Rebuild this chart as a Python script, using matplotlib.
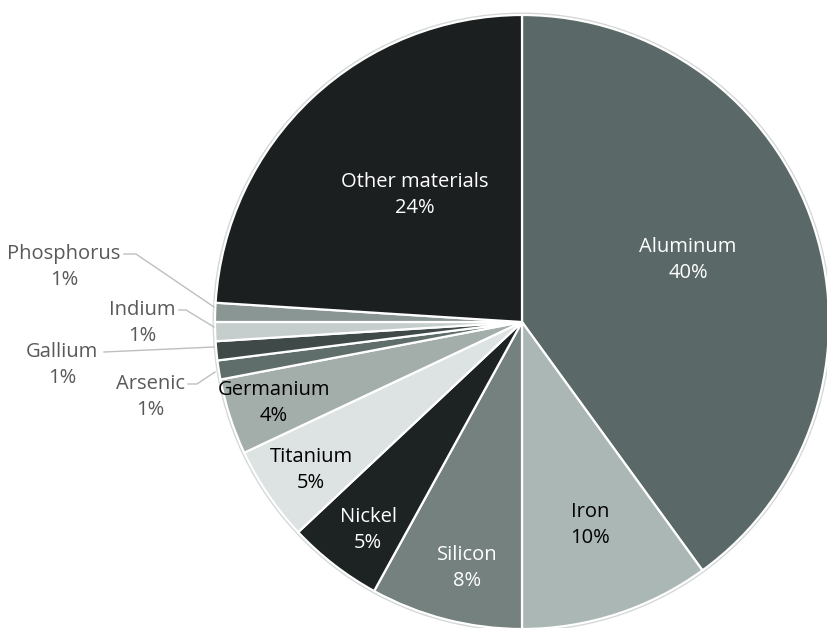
import numpy as np
import matplotlib.pyplot as plt
from matplotlib.patches import Circle

# material shares, clockwise from 12 o'clock
materials = ['Aluminum', 'Iron', 'Silicon', 'Nickel', 'Titanium', 'Germanium',
             'Arsenic', 'Gallium', 'Indium', 'Phosphorus', 'Other materials']
shares = [40, 10, 8, 5, 5, 4, 1, 1, 1, 1, 24]
colors = ['#5a6967', '#abb7b5', '#75817e', '#1d2223', '#dde3e2', '#a3aeab',
          '#5f6d6b', '#3e4948', '#c5cecc', '#8a9693', '#1b1f20']
text_colors = ['white', 'black', 'white', 'white', 'black', 'black',
               '#595959', '#595959', '#595959', '#595959', 'white']

plt.rcParams['font.family'] = ['Open Sans', 'DejaVu Sans']

W, H = 828, 628
cx, cy, R = 522, 322, 307  # pie centre and radius in pixels

def px(x, y):
    # pixel position -> data units (pie radius = 1)
    return (x - cx) / R, (cy - y) / R

fig = plt.figure(figsize=(W / 100, H / 100), dpi=100)
ax = fig.add_axes([0, 0, 1, 1])

# soft rim behind the pie
ax.add_patch(Circle((0, 0), 1.008, facecolor='#d3d8d7', edgecolor='none', zorder=0))

wedges, _ = ax.pie(shares, colors=colors, startangle=90, counterclock=False,
                   radius=1.0, wedgeprops=dict(edgecolor='white', linewidth=1.6))
for w in wedges:
    w.set_zorder(1)

# pie() resets the limits, so fix the view afterwards
ax.set_aspect('auto')
ax.set_xlim(-cx / R, (W - cx) / R)
ax.set_ylim(-(H - cy) / R, cy / R)
ax.axis('off')

# label anchors (pixel coords) for the slices labelled inside
inside_pos = {
    'Aluminum': (688, 260), 'Iron': (590, 525), 'Silicon': (467, 568),
    'Nickel': (368, 530), 'Titanium': (311, 470), 'Germanium': (274, 403),
    'Other materials': (415, 195),
}
# outside labels: text centre, leader path
outside = {
    'Phosphorus': ((64, 267), [(124, 254), (136, 254), (214, 307)]),
    'Indium': ((142, 323), [(179, 310), (186, 310), (214, 327)]),
    'Gallium': ((62, 365), [(104, 352), (214, 347)]),
    'Arsenic': ((150, 397), [(188, 384), (197, 384), (215, 372)]),
}

fs = 14.5
for name, val, tc in zip(materials, shares, text_colors):
    label = '%s\n%d%%' % (name, val)
    if name in inside_pos:
        x, y = px(*inside_pos[name])
        ax.text(x, y, label, ha='center', va='center', color=tc, fontsize=fs,
                linespacing=1.45, zorder=3)
    else:
        (tx, ty), path = outside[name]
        x, y = px(tx, ty)
        ax.text(x, y, label, ha='center', va='center', color=tc, fontsize=fs,
                linespacing=1.45, zorder=3)
        pts = np.array([px(*p) for p in path])
        ax.plot(pts[:, 0], pts[:, 1], color='#bfbfbf', linewidth=1.0, zorder=2)

fig.savefig('out.png', dpi=100, facecolor='white')
